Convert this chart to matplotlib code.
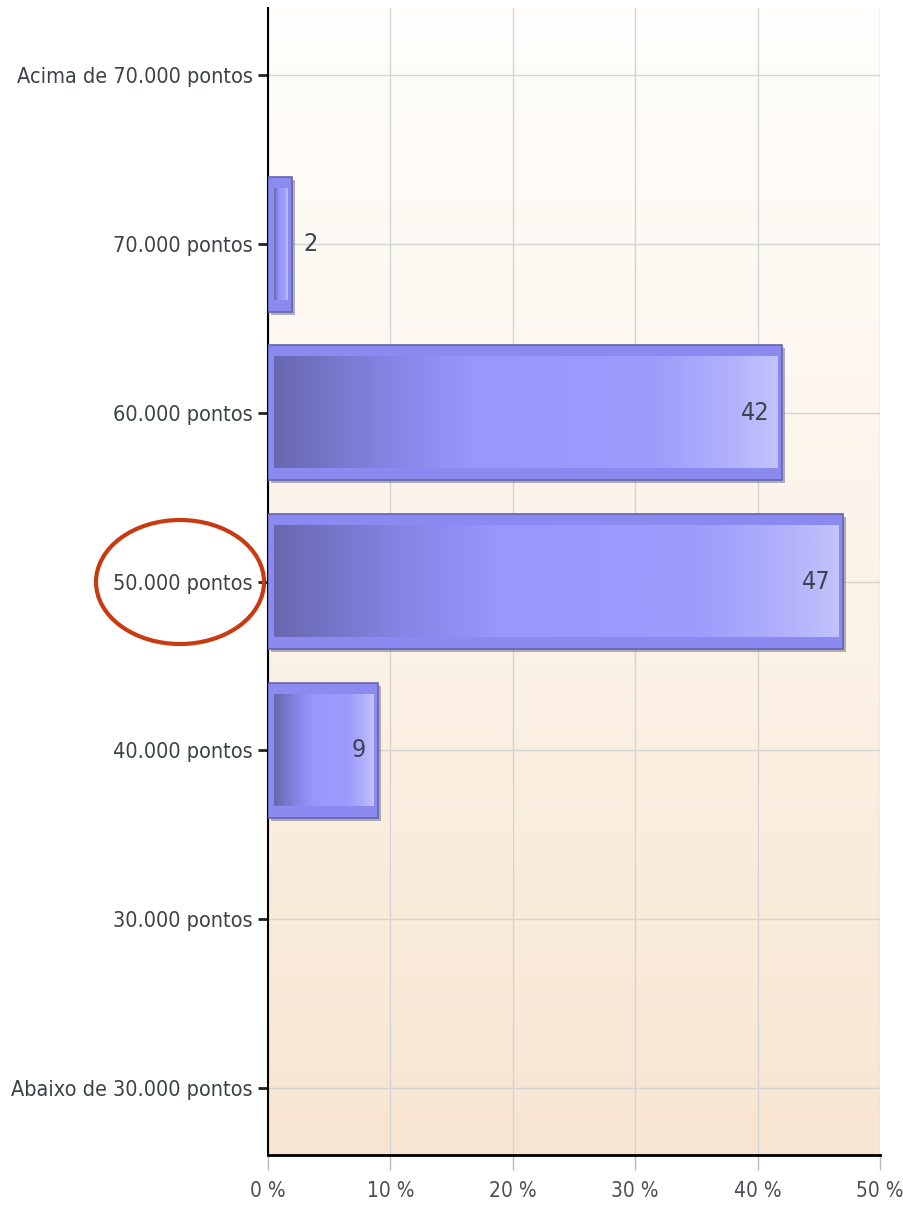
import numpy as np
import matplotlib
matplotlib.use('Agg')
import matplotlib.pyplot as plt
import matplotlib.transforms as mtransforms
from matplotlib.colors import LinearSegmentedColormap
from matplotlib.patches import Rectangle, Ellipse

categories = ['Acima de 70.000 pontos', '70.000 pontos', '60.000 pontos', '50.000 pontos',
              '40.000 pontos', '30.000 pontos', 'Abaixo de 30.000 pontos']
values = [0, 2, 42, 47, 9, 0, 0]
xticks = [0, 10, 20, 30, 40, 50]
xticklabels = ['0 %', '10 %', '20 %', '30 %', '40 %', '50 %']

plt.rcParams['font.family'] = ['DejaVu Sans']
plt.rcParams['font.stretch'] = 'condensed'

fig = plt.figure(figsize=(9.04, 12.17), dpi=100)
ax = fig.add_axes([268 / 904, 62 / 1217, 612 / 904, 1147 / 1217])

# background gradient, white at top to peach at bottom
bg_cmap = LinearSegmentedColormap.from_list('bg', ['#fffefc', '#fcf3e8', '#f7e5d1'])
ax.imshow(np.linspace(0, 1, 256).reshape(-1, 1), cmap=bg_cmap, aspect='auto',
          extent=[0, 1, 0, 1], transform=ax.transAxes, zorder=0, origin='upper')

bar_cmap = LinearSegmentedColormap.from_list(
    'bar', [(0, '#6868b0'), (0.22, '#8484e4'), (0.4, '#9898fc'),
            (0.75, '#9c9cfc'), (0.9, '#b0b0fc'), (1.0, '#c2c2fc')])

ypos = np.arange(len(categories))
h = 0.8
bars = ax.barh(ypos, values, height=h, color='#8a8af0', edgecolor='#6464b0',
               linewidth=1.2, zorder=3)

shadow_tr = mtransforms.offset_copy(ax.transData, fig=fig, x=3, y=-3, units='dots')
grad = np.linspace(0, 1, 256).reshape(1, -1)
for p, v in zip(bars.patches, values):
    if v <= 0:
        p.set_visible(False)
        continue
    x0, y0, w, hh = p.get_x(), p.get_y(), p.get_width(), p.get_height()
    ax.add_patch(Rectangle((x0, y0), w, hh, transform=shadow_tr, facecolor='#707088',
                           alpha=0.55, edgecolor='none', zorder=2))
    ix = 0.45
    iy = 0.07
    if w > 2 * ix:
        ax.imshow(grad, cmap=bar_cmap, aspect='auto', zorder=4,
                  extent=[x0 + ix, x0 + w - ix, y0 + hh - iy, y0 + iy])
    if v < 5:
        ax.text(v + 0.9, p.get_y() + hh / 2, str(v), ha='left', va='center',
                fontsize=18, color='#3c4450', zorder=6)
    else:
        ax.text(v - 1.0, p.get_y() + hh / 2, str(v), ha='right', va='center',
                fontsize=18, color='#3c4450', zorder=6)

ax.set_xlim(0, 50)
ax.set_ylim(6.4, -0.4)
ax.set_yticks(ypos)
ax.set_yticklabels(categories, fontsize=15.5, color='#3c4248')
ax.set_xticks(xticks)
ax.set_xticklabels(xticklabels, fontsize=15, color='#4a5058')

ax.grid(True, color='#d4d4d4', linewidth=1)
ax.set_axisbelow(True)
for s in ['top', 'right']:
    ax.spines[s].set_visible(False)
ax.spines['left'].set_linewidth(1.5)
ax.spines['bottom'].set_linewidth(2)
ax.tick_params(axis='y', length=7, width=2, color='#222222', pad=4)
ax.tick_params(axis='x', length=11, width=1, color='#bbbbbb', pad=8)

# red highlight around 50.000 pontos
fig.add_artist(Ellipse((180 / 904, 1 - 582 / 1217), 168 / 904, 124 / 1217,
                       transform=fig.transFigure, facecolor='none',
                       edgecolor='#c83a10', linewidth=3, zorder=10))

fig.savefig('out.png', dpi=100)
